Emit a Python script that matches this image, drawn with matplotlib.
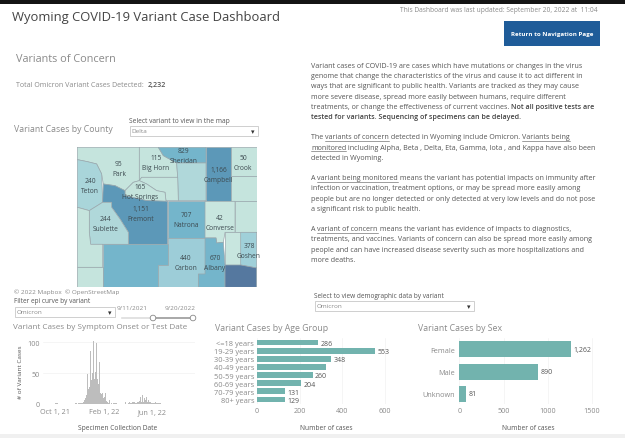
import matplotlib
matplotlib.use("Agg")
import matplotlib.pyplot as plt
import pandas as pd
from matplotlib.patches import Polygon, Rectangle, Circle

W, H = 625, 439
FONT = "Open Sans"
TEXT = "#555555"
GREY = "#8a8a8a"
TEAL = "#72b3ae"

plt.rcParams["font.family"] = [FONT, "DejaVu Sans"]

# -----------------------------------------------------------------------------
# Data
# -----------------------------------------------------------------------------
age_groups = ["<=18 years", "19-29 years", "30-39 years", "40-49 years",
              "50-59 years", "60-69 years", "70-79 years", "80+ years"]
age_cases = [286, 553, 348, 321, 260, 204, 131, 129]
age_labels = ["286", "553", "348", "", "260", "204", "131", "129"]
age_ticks = [0, 200, 400, 600]

sex_groups = ["Female", "Male", "Unknown"]
sex_cases = [1262, 890, 81]
sex_labels = ["1,262", "890", "81"]
sex_ticks = [0, 500, 1000, 1500]

# daily counts starting Oct 1 2021
epi_before = [0, 1, 0, 0, 1, 0, 1, 0, 0, 0, 1, 0, 0, 0, 0, 0, 0, 0, 0, 0, 0, 0, 0, 0,
              0, 0, 0, 0, 0, 0, 0, 0, 0, 0, 0, 0, 0, 0, 0, 0, 0, 0, 0, 0, 0, 1, 0, 0,
              0, 0, 0, 1, 0, 0, 1, 0, 0, 1, 0, 1, 0, 1, 1, 0, 1, 1, 1, 1]
epi_surge = [1, 2, 3, 3, 4, 5, 6, 8, 9, 10, 12, 14, 16, 48, 30, 22, 24, 26, 28, 35, 55,
             86, 60, 38, 40, 42, 50, 70, 101, 75, 45, 40, 45, 52, 60, 75, 98, 70, 40, 30,
             28, 32, 45, 68, 40, 22, 18, 15, 16, 20, 30, 18, 12, 10, 9, 9, 12, 30, 18, 8,
             6, 5, 4, 3, 2]
epi_tail = [5, 1, 2, 6, 1, 3, 0, 4, 1, 2, 5, 0, 2, 1, 3, 0, 1, 0, 1, 0, 1, 2, 0, 0, 1, 0,
            0, 1, 0, 0, 2, 0, 1, 0, 0, 1, 0, 2, 0, 0, 1, 0, 1, 3, 0, 1, 0, 2, 0, 1, 0, 1,
            0, 3, 1, 0, 2, 0, 1, 2, 0, 3, 1, 4, 2, 1, 3, 4, 2, 3, 5, 2, 3, 4, 3, 2, 4, 3,
            5, 3, 8, 12, 5, 3, 5, 7, 14, 8, 4, 6, 3, 9, 13, 6, 4, 7, 12, 5, 3, 8, 13, 6,
            2, 3, 1, 2, 3, 1, 2, 1, 3, 1, 2, 1, 3, 2, 1, 2, 4, 1, 2, 1, 5, 2, 1, 3, 1, 2,
            1, 1, 2, 1]
epi_start = "2021-10-01"
epi_ticks = ["2021-10-01", "2022-02-01", "2022-06-01"]
epi_tick_labels = ["Oct 1, 21", "Feb 1, 22", "Jun 1, 22"]
epi_yticks = [0, 50, 100]

county_shapes = {
    "Park": [(232, 25), (418, 25), (418, 125), (400, 130), (375, 155), (345, 140), (310, 135),
             (305, 105), (290, 75), (262, 68), (232, 62)],
    "Teton": [(232, 62), (262, 68), (290, 75), (305, 105), (308, 190), (268, 215), (232, 205)],
    "Big Horn": [(418, 25), (475, 25), (490, 50), (530, 72), (533, 115), (425, 115), (418, 125)],
    "Sheridan": [(475, 25), (618, 25), (618, 72), (530, 72), (490, 50)],
    "Johnson": [(530, 72), (618, 72), (618, 185), (535, 185), (533, 115)],
    "Campbell": [(618, 25), (692, 25), (692, 185), (618, 185)],
    "Crook": [(692, 25), (770, 25), (770, 112), (692, 112)],
    "Weston": [(692, 112), (770, 112), (770, 185), (692, 185)],
    "Washakie": [(425, 115), (533, 115), (535, 185), (498, 185), (495, 160), (470, 155),
                 (440, 135), (418, 125)],
    "Hot Springs": [(400, 130), (418, 125), (440, 135), (470, 155), (495, 160), (498, 187),
                    (440, 185), (375, 170), (375, 155)],
    "Fremont": [(310, 135), (345, 140), (375, 155), (375, 170), (440, 185), (503, 187),
                (503, 316), (385, 316), (385, 280), (360, 240), (335, 205), (335, 190), (308, 190)],
    "Natrona": [(503, 187), (615, 187), (615, 297), (503, 297)],
    "Converse": [(615, 187), (705, 187), (705, 280), (675, 280), (670, 310), (650, 312),
                 (648, 297), (615, 297)],
    "Niobrara": [(705, 187), (770, 187), (770, 280), (705, 280)],
    "Sublette": [(268, 215), (308, 190), (335, 190), (335, 205), (360, 240), (385, 280),
                 (385, 316), (272, 316), (268, 280)],
    "Lincoln": [(232, 205), (268, 215), (268, 280), (272, 316), (308, 316), (308, 385), (232, 385)],
    "Uinta": [(232, 385), (308, 385), (308, 445), (232, 445)],
    "Sweetwater": [(308, 316), (503, 316), (503, 378), (473, 378), (473, 445), (308, 445)],
    "Carbon": [(503, 297), (615, 297), (615, 405), (595, 405), (595, 445), (473, 445),
               (473, 378), (503, 378)],
    "Albany": [(615, 297), (648, 297), (650, 312), (670, 310), (675, 378), (675, 445),
               (595, 445), (595, 405), (615, 405)],
    "Platte": [(675, 280), (722, 280), (722, 378), (675, 378)],
    "Goshen": [(722, 280), (770, 280), (770, 387), (722, 378)],
    "Laramie": [(675, 378), (722, 378), (770, 387), (770, 445), (675, 445)],
}
county_colors = {
    "Park": "#c5e4dd", "Teton": "#a9d5da", "Big Horn": "#c5e4dd", "Sheridan": "#74b5cb",
    "Johnson": "#b0d8da", "Campbell": "#5c98b8", "Crook": "#c5e4dd", "Weston": "#c5e4dd",
    "Washakie": "#c5e4dd", "Hot Springs": "#c5e4dd", "Fremont": "#5c98b8", "Natrona": "#74b5cb",
    "Converse": "#c8e6df", "Niobrara": "#c5e4dd", "Sublette": "#b0d8da", "Lincoln": "#c5e4dd",
    "Uinta": "#c5e4dd", "Sweetwater": "#74b5cb", "Carbon": "#9dcdd8", "Albany": "#74b5cb",
    "Platte": "#c8e6df", "Goshen": "#a0d0d9", "Laramie": "#55789f",
}
county_labels = [("95", "Park", 357, 75), ("115", "Big Horn", 468, 55), ("829", "Sheridan", 550, 35),
                 ("1,166", "Campbell", 655, 92), ("50", "Crook", 730, 55), ("240", "Teton", 270, 124),
                 ("165", "Hot Springs", 420, 142), ("1,151", "Fremont", 422, 209),
                 ("707", "Natrona", 559, 227), ("42", "Converse", 660, 235), ("244", "Sublette", 316, 238),
                 ("378", "Goshen", 747, 319), ("440", "Carbon", 558, 357), ("670", "Albany", 645, 357)]

# body text: each line is a list of (text, style) pieces; n normal, b bold, u underlined
body_lines = [
    (67, [("Variant cases of COVID-19 are cases which have mutations or changes in the virus", "n")]),
    (77, [("genome that change the characteristics of the virus and cause it to act different in", "n")]),
    (87, [("ways that are significant to public health. Variants are tracked as they may cause", "n")]),
    (97.5, [("more severe disease, spread more easily between humans, require different", "n")]),
    (108, [("treatments, or change the effectiveness of current vaccines. ", "n"),
           ("Not all positive tests are", "b")]),
    (118, [("tested for variants. Sequencing of specimens can be delayed.", "b")]),
    (138, [("The ", "n"), ("variants of concern", "u"), (" detected in Wyoming include Omicron. ", "n"),
           ("Variants being", "u")]),
    (148.5, [("monitored", "u"), (" including Alpha, Beta , Delta, Eta, Gamma, Iota , and Kappa have also been", "n")]),
    (159, [("detected in Wyoming.", "n")]),
    (179, [("A ", "n"), ("variant being monitored", "u"), (" means the variant has potential impacts on immunity after", "n")]),
    (189, [("infection or vaccination, treatment options, or may be spread more easily among", "n")]),
    (199.5, [("people but are no longer detected or only detected at very low levels and do not pose", "n")]),
    (209.5, [("a significant risk to public health.", "n")]),
    (230, [("A ", "n"), ("variant of concern", "u"), (" means the variant has evidence of impacts to diagnostics,", "n")]),
    (240, [("treatments, and vaccines. Variants of concern can also be spread more easily among", "n")]),
    (250.5, [("people and can have increased disease severity such as more hospitalizations and", "n")]),
    (261, [("more deaths.", "n")]),
]


def px_axes(fig, left, top, right, bottom):
    """Axes placed by page pixels."""
    return fig.add_axes([left / W, 1 - bottom / H, (right - left) / W, (bottom - top) / H])


def clean_axes(ax):
    for s in ax.spines.values():
        s.set_visible(False)
    ax.set_facecolor("none")
    ax.tick_params(length=0, labelsize=5.2, labelcolor=GREY, pad=2)


def draw_body(fig, page):
    rend = fig.canvas.get_renderer()
    for y, pieces in body_lines:
        x = 311
        for txt, style in pieces:
            weight = "semibold" if style == "b" else "normal"
            color = "#444444" if style == "b" else TEXT
            t = page.text(x, y, txt, fontsize=BODY_SIZE, color=color, weight=weight, va="center", ha="left")
            w = t.get_window_extent(rend).width
            if style == "u":
                page.plot([x, x + w], [y + 3.6, y + 3.6], color=TEXT, lw=0.4)
            x += w


def dropdown(page, left, top, right, bottom, label):
    page.add_patch(Rectangle((left, top), right - left, bottom - top, fc="white", ec="#c8c8c8", lw=0.6))
    page.text(left + 2, (top + bottom) / 2, label, fontsize=4.6, color=GREY, va="center")
    page.text(right - 5, (top + bottom) / 2, "▾", fontsize=5, color="#333333", va="center", ha="center",
              family="DejaVu Sans")


BODY_SIZE = 5.1

fig = plt.figure(figsize=(W / 100, H / 100), dpi=100, facecolor="white")
page = fig.add_axes([0, 0, 1, 1])
page.set_xlim(0, W)
page.set_ylim(H, 0)
page.axis("off")

# page furniture
page.add_patch(Rectangle((0, 0), W, 4.5, fc="#141414", ec="none"))
page.add_patch(Rectangle((0, 435.5), W, 3.5, fc="#f0f0f0", ec="none"))
page.text(12, 18, "Wyoming COVID-19 Variant Case Dashboard", fontsize=9.35, color="#444444", va="center")
page.text(598, 11, "This Dashboard was last updated: September 20, 2022 at  11:04", fontsize=4.75,
          color=GREY, ha="right", va="center")
page.add_patch(Rectangle((504, 21.5), 96, 25, fc="#1f5c99", ec="none"))
page.text(552, 34.5, "Return to Navigation Page", fontsize=4.5, color="white", weight="bold",
          ha="center", va="center")
page.text(16, 60, "Variants of Concern", fontsize=7.8, color=GREY, va="center")
page.text(16, 85.5, "Total Omicron Variant Cases Detected:", fontsize=5.1, color=GREY, va="center")
page.text(148, 85.5, "2,232", fontsize=5.1, color=TEXT, weight="semibold", va="center")
page.text(14, 130, "Variant Cases by County", fontsize=6.3, color=GREY, va="center")
page.text(129, 121.5, "Select variant to view in the map", fontsize=4.8, color=TEXT, va="center")
dropdown(page, 129.5, 126.5, 257.5, 137, "Delta")

page.text(14, 292, "© 2022 Mapbox  © OpenStreetMap", fontsize=4.6, color=GREY, va="center")
page.text(14, 302, "Filter epi curve by variant", fontsize=4.7, color=TEXT, va="center")
dropdown(page, 14.5, 308, 114.5, 318, "Omicron")
page.text(132, 309, "9/11/2021", fontsize=4.6, color=GREY, ha="center", va="center")
page.text(180, 309, "9/20/2022", fontsize=4.6, color=GREY, ha="center", va="center")
page.plot([122, 153], [319, 319], color="#dddddd", lw=1.2)
page.plot([153, 193], [319, 319], color="#999999", lw=1.2)
for cx in (153, 193):
    page.add_patch(Circle((cx, 319), 2.8, fc="white", ec="#888888", lw=0.6, zorder=3))

page.text(314, 296.5, "Select to view demographic data by variant", fontsize=4.7, color=TEXT, va="center")
dropdown(page, 314.5, 302, 473.5, 312, "Omicron")

page.text(13, 328, "Variant Cases by Symptom Onset or Test Date", fontsize=5.85, color=GREY, va="center")
page.text(215, 329, "Variant Cases by Age Group", fontsize=6.3, color=GREY, va="center")
page.text(418, 329, "Variant Cases by Sex", fontsize=6.3, color=GREY, va="center")

draw_body(fig, page)

# county map
ax_map = px_axes(fig, 77.3, 148.3, 256.7, 288.3)
ax_map.set_xlim(232, 770)
ax_map.set_ylim(445, 25)
ax_map.axis("off")
for name, pts in county_shapes.items():
    ax_map.add_patch(Polygon(pts, closed=True, fc=county_colors[name], ec="#9aa8ad", lw=0.5))
for value, name, x, y in county_labels:
    ax_map.text(x, y, value, fontsize=4.8, color="#3d4a50", ha="center", va="center")
    ax_map.text(x, y + 30, name, fontsize=4.8, color="#3d4a50", ha="center", va="center")

# epi curve
epi_counts = epi_before + epi_surge + epi_tail
epi_dates = pd.date_range(epi_start, periods=len(epi_counts), freq="D")
ax_epi = px_axes(fig, 43, 339, 195, 405)
clean_axes(ax_epi)
ax_epi.bar(epi_dates, epi_counts, width=1.0, color="#bdbdbd", linewidth=0)
t0 = pd.Timestamp(epi_start)
ax_epi.set_xlim(t0 - pd.Timedelta(days=30), t0 + pd.Timedelta(days=350))
ax_epi.set_ylim(0, 106.5)
ax_epi.set_yticks(epi_yticks)
ax_epi.set_xticks(pd.to_datetime(epi_ticks))
ax_epi.set_xticklabels(epi_tick_labels)
ax_epi.grid(axis="y", color="#f2f2f2", lw=0.5)
ax_epi.set_axisbelow(True)
ax_epi.tick_params(axis="x", pad=3)
page.text(20, 372, "# of Variant Cases", fontsize=4.6, color=TEXT, rotation=90, ha="center", va="center")
page.text(118, 429, "Specimen Collection Date", fontsize=4.8, color=TEXT, ha="center", va="center")

# age group bars
ax_age = px_axes(fig, 257, 339, 398, 405)
clean_axes(ax_age)
ax_age.barh(age_groups, age_cases, height=0.72, color=TEAL)
ax_age.set_ylim(len(age_groups) - 0.5 + 0.05, -0.5 - 0.05)
ax_age.set_xlim(0, 660)
ax_age.set_xticks(age_ticks)
ax_age.tick_params(axis="y", labelsize=5.4)
ax_age.grid(axis="x", color="#f2f2f2", lw=0.5)
ax_age.set_axisbelow(True)
for i, lab in enumerate(age_labels):
    ax_age.text(age_cases[i] + 12, i + 0.1, lab, fontsize=5, color=TEXT, va="center")
page.text(326.5, 429, "Number of cases", fontsize=4.8, color=TEXT, ha="center", va="center")

# sex bars
ax_sex = px_axes(fig, 459.3, 339, 600, 405)
clean_axes(ax_sex)
ax_sex.barh(sex_groups, sex_cases, height=0.72, color=TEAL)
ax_sex.set_ylim(2.45, -0.5)
ax_sex.set_xlim(0, 1590)
ax_sex.set_xticks(sex_ticks)
ax_sex.tick_params(axis="y", labelsize=5.2, pad=3)
ax_sex.grid(axis="x", color="#f2f2f2", lw=0.5)
ax_sex.set_axisbelow(True)
for i, lab in enumerate(sex_labels):
    ax_sex.text(sex_cases[i] + 30, i, lab, fontsize=5, color=TEXT, va="center")
page.text(528, 429, "Number of cases", fontsize=4.8, color=TEXT, ha="center", va="center")

fig.savefig("out.png", dpi=100)
